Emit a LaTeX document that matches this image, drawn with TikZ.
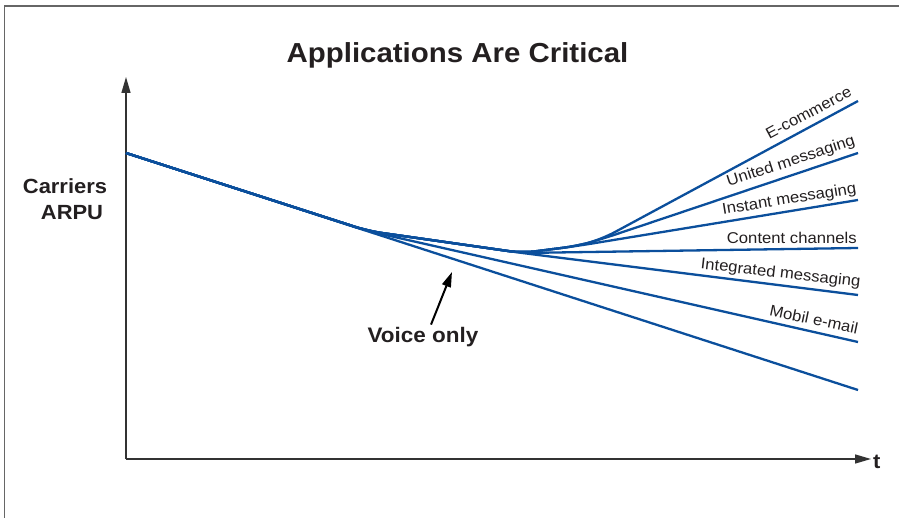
\documentclass[tikz,border=0pt]{standalone}
\usepackage{fontspec}
\setmainfont{Liberation Sans}
\newfontfamily\widebold[FakeStretch=1.07]{Liberation Sans Bold}
\newfontfamily\wideregular[FakeStretch=1.07]{Liberation Sans}
\usetikzlibrary{arrows.meta}
\definecolor{lineblue}{HTML}{0B4F9C}
\definecolor{txt}{HTML}{231F20}
\definecolor{framegray}{HTML}{666666}
\definecolor{axisgray}{HTML}{333333}
\begin{document}
\begin{tikzpicture}[x=1pt,y=-1pt,
  curve/.style={draw=lineblue,line width=2.3pt,rounded corners=14pt},
  lbl/.style={text=txt,font=\wideregular\fontsize{15.6}{17}\selectfont,inner sep=0pt,anchor=base east},
  boldtxt/.style={text=txt,font=\widebold\fontsize{20.5}{24}\selectfont,inner sep=0pt},
  axis/.style={draw=axisgray,line width=1.4pt,-{Triangle[length=16pt,width=9pt]}}]
\useasboundingbox (0,0) rectangle (899,518);
% frame
\draw[framegray,line width=1.6pt] (4.5,518) -- (4.5,6) -- (899,6);
% title
\node[text=txt,font=\widebold\fontsize{27.5}{30}\selectfont,anchor=base,inner sep=0pt] (title) at (457.5,63) {Applications Are Critical};
% axes
\coordinate (O) at (126,459);
\coordinate (ytop) at (126,77);
\coordinate (xend) at (871,459);
\draw[axis] (O) -- (ytop);
\draw[axis] (O) -- (xend);
\node[boldtxt,anchor=base west] (t) at (873,468) {t};
\node[boldtxt,anchor=base] (carr) at (65,194) {Carriers};
\node[boldtxt,anchor=base] (arpu) at (72,220) {ARPU};
% curve points
\coordinate (S) at (126,153);
\coordinate (V) at (368,231);
\coordinate (H) at (522,253);
\coordinate (B1) at (577,246);
\coordinate (B2) at (602,239);
\coordinate (ec) at (858,101);
\coordinate (um) at (858,153);
\coordinate (im) at (858,200);
\coordinate (cc) at (858,248);
\coordinate (ig) at (858,295);
\coordinate (me) at (858,342);
\coordinate (vo) at (858,390);
\draw[curve] (S) -- (vo);
\draw[curve] (S) -- (V) -- (me);
\draw[curve] (S) -- (V) -- (H) -- (ig);
\draw[curve] (S) -- (V) -- (H) -- (cc);
\draw[curve] (S) -- (V) -- (H) -- (B1) -- (im);
\draw[curve] (S) -- (V) -- (H) -- (B1) -- (B2) -- (um);
\draw[curve] (S) -- (V) -- (H) -- (B1) -- (B2) -- (ec);
% labels
\node[lbl,rotate=28.2] (lec) at (853,95) {E-commerce};
\node[lbl,rotate=18] (lum) at (856,145) {United messaging};
\node[lbl,rotate=9.2] (lim) at (857,193) {Instant messaging};
\node[lbl,rotate=0.3] (lcc) at (857,243) {Content channels};
\node[lbl,rotate=-6.5] (lig) at (860,287) {Integrated messaging};
\node[lbl,rotate=-12] (lme) at (857,334) {Mobil e-mail};
% voice only
\node[boldtxt,font=\widebold\fontsize{21}{24}\selectfont,anchor=base] (voice) at (423,342) {Voice only};
\coordinate (vtip) at (452,272);
\draw[black,line width=2pt,-{Triangle[length=15pt,width=9pt]}] (voice.north) ++(8,-2) -- (vtip);
\end{tikzpicture}
\end{document}
